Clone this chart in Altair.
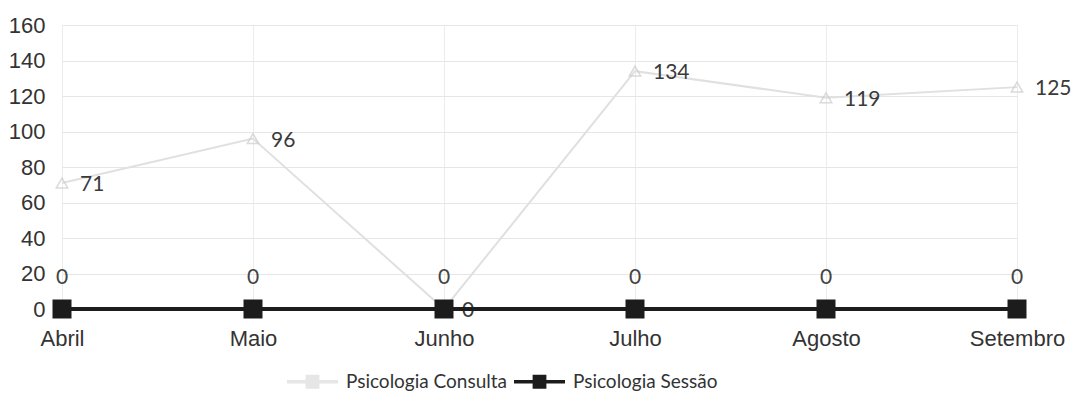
import altair as alt
import pandas as pd

months = ["Abril", "Maio", "Junho", "Julho", "Agosto", "Setembro"]
consulta = [71, 96, 0, 134, 119, 125]
sessao = [0, 0, 0, 0, 0, 0]
series_names = ["Psicologia Consulta", "Psicologia Sessão"]
y_ticks = [0, 20, 40, 60, 80, 100, 120, 140, 160]

df_c = pd.DataFrame({"mes": months, "valor": consulta})
df_s = pd.DataFrame({"mes": months, "valor": sessao})
df_leg = pd.DataFrame({"serie": series_names})

x_enc = alt.X(
    "mes:N", sort=months,
    scale=alt.Scale(type="point", padding=0),
    axis=alt.Axis(title=None, labelAngle=0, grid=True, gridColor="#ececec",
                  domain=False, ticks=False, tickSize=0, labelPadding=19,
                  labelFontSize=22, labelFont="Liberation Sans", labelColor="#333333"),
)
y_enc = alt.Y(
    "valor:Q",
    scale=alt.Scale(domain=[0, 160], nice=False),
    axis=alt.Axis(title=None, values=y_ticks, grid=True, gridColor="#e6e6e6",
                  domain=False, ticks=False, tickSize=0, labelPadding=17,
                  labelFontSize=22, labelFont="Liberation Sans", labelColor="#333333"),
)

cons_line = alt.Chart(df_c).mark_line(color="#e0e0e0", strokeWidth=2).encode(x=x_enc, y=y_enc)
cons_pts = alt.Chart(df_c).mark_point(shape="triangle-up", size=130, filled=False,
                                      color="#cccccc", strokeWidth=1.5).encode(x=x_enc, y=y_enc)
cons_lbl = alt.Chart(df_c).mark_text(align="left", baseline="middle", dx=18, dy=2,
                                     fontSize=21, font="Lato", color="#3a3a3a").encode(
    x=x_enc, y=y_enc, text="valor:Q")

sess_line = alt.Chart(df_s).mark_line(color="#1c1c1c", strokeWidth=4).encode(x=x_enc, y=y_enc)
sess_pts = alt.Chart(df_s).mark_square(size=361, color="#1c1c1c", opacity=1).encode(x=x_enc, y=y_enc)
sess_lbl = alt.Chart(df_s).mark_text(align="center", baseline="middle", dy=-31,
                                     fontSize=21, font="Lato", color="#444444").encode(
    x=x_enc, y=y_enc, text="valor:Q")

leg_path = ("M-1,-0.07 L1,-0.07 L1,0.07 L-1,0.07 Z "
            "M-0.27,-0.27 L0.27,-0.27 L0.27,0.27 L-0.27,0.27 Z")

legend_layer = alt.Chart(df_leg).mark_point(filled=True, size=10, opacity=1).encode(
    x=alt.value(0), y=alt.value(-3000),
    color=alt.Color("serie:N",
                    scale=alt.Scale(domain=series_names, range=["#e6e6e6", "#1c1c1c"]),
                    legend=alt.Legend(title=None, orient="none", legendX=225, legendY=331,
                                      direction="horizontal", columns=2,
                                      symbolType=leg_path, symbolSize=2600,
                                      symbolStrokeWidth=0, symbolOpacity=1, labelFont="Lato",
                                      labelFontSize=19, labelColor="#333333", labelLimit=400,
                                      labelOffset=8, columnPadding=6)),
)

chart = alt.layer(
    cons_line, cons_pts, cons_lbl, sess_line, sess_pts, sess_lbl, legend_layer
).properties(
    width=955, height=284,
    autosize=alt.AutoSizeParams(type="none"),
    padding={"left": 54, "top": 17, "right": 58, "bottom": 84},
    background="white",
).configure_view(stroke=None)

chart.save("out.html", embed_options={"renderer": "svg", "actions": False})
